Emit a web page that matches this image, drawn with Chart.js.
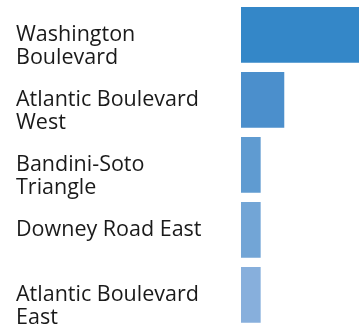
<!DOCTYPE html>
<html>
<head>
<meta charset="utf-8">
<script src="https://cdn.jsdelivr.net/npm/chart.js@4/dist/chart.umd.min.js"></script>
<style>
  html, body { margin: 0; padding: 0; background: #fff; overflow: hidden; }
  #frame { width: 359px; height: 324px; overflow: hidden; position: relative; }
  #wrap { width: 359px; height: 328px; position: absolute; left: 0; top: 0; }
</style>
</head>
<body>
<div id="frame"><div id="wrap"><canvas id="c"></canvas></div></div>
<script>
// Neighbourhood names, wrapped into lines (single-line names keep an empty second line)
const categories = [
  ['Washington', 'Boulevard'],
  ['Atlantic Boulevard', 'West'],
  ['Bandini-Soto', 'Triangle'],
  ['Downey Road East', ''],
  ['Atlantic Boulevard', 'East']
];
const values = [6, 2.2, 1, 1, 1];
const barColors = ['#3487c8', '#4b8fcc', '#5f9bd1', '#72a5d6', '#87afdc'];
const xMax = 6;

new Chart(document.getElementById('c'), {
  type: 'bar',
  data: {
    labels: categories,
    datasets: [{
      data: values,
      backgroundColor: barColors,
      borderWidth: 0,
      barPercentage: 0.857,
      categoryPercentage: 1
    }]
  },
  options: {
    indexAxis: 'y',
    responsive: true,
    maintainAspectRatio: false,
    animation: false,
    layout: { padding: { left: 16, right: 0, top: 2.3, bottom: 0.7 } },
    plugins: { legend: { display: false }, tooltip: { enabled: false } },
    scales: {
      x: { display: false, min: 0, max: xMax },
      y: {
        grid: { display: false, drawTicks: false },
        border: { display: false },
        afterFit: (scale) => {
          scale.width = 225;
          // labels may overhang the plot edges; keep the bands full height
          scale.paddingTop = 0;
          scale.paddingBottom = 0;
        },
        ticks: {
          crossAlign: 'far',
          padding: 0,
          color: '#1a1a1a',
          labelOffset: 12,
          font: { family: 'Open Sans', size: 21.5, lineHeight: 1.07 }
        }
      }
    }
  }
});
</script>
</body>
</html>
